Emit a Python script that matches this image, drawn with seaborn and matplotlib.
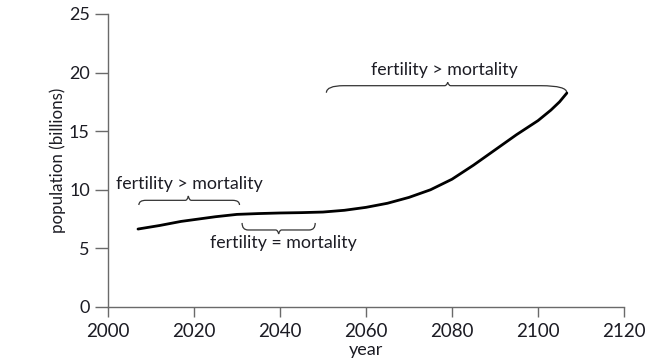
import numpy as np
import matplotlib
matplotlib.use("Agg")
import matplotlib.pyplot as plt
import seaborn as sns
from matplotlib.path import Path
from matplotlib.patches import PathPatch

# data
years = [2007, 2012, 2017, 2021, 2025, 2030, 2035, 2040, 2045, 2050, 2055,
         2060, 2065, 2070, 2075, 2080, 2085, 2090, 2095, 2100, 2103, 2105, 2106.7]
population = [6.65, 6.95, 7.3, 7.5, 7.7, 7.9, 7.97, 8.02, 8.05, 8.1, 8.25,
              8.5, 8.85, 9.35, 10.0, 10.9, 12.1, 13.4, 14.7, 15.9, 16.8, 17.5, 18.25]

x_ticks = [2000, 2020, 2040, 2060, 2080, 2100, 2120]
y_ticks = [0, 5, 10, 15, 20, 25]

# braces: (start, end, middle, y at ends, y of flat part, y of tip)
brace_x0 = [2007.2, 2031.2, 2050.8]
brace_x1 = [2030.6, 2048.2, 2106.7]
brace_xm = [2018.7, 2039.7, 2079.0]
brace_yend = [8.7, 7.17, 18.28]
brace_yflat = [9.1, 6.57, 18.88]
brace_ytip = [9.47, 6.23, 19.17]
brace_rx = [(1.6, 1.6), (1.4, 1.4), (4.0, 6.0)]

labels = ["fertility > mortality", "fertility = mortality", "fertility > mortality"]
label_x = [2019.0, 2040.9, 2078.3]
label_y = [10.5, 5.46, 20.2]

sns.set_style("white")
plt.rcParams["font.family"] = ["Lato", "DejaVu Sans"]

text_col = "#1c1c24"
axis_col = "#6a6a6a"

fig = plt.figure(figsize=(6.66, 3.58), dpi=100)
ax = fig.add_axes([0.162, 0.1425, 0.775, 0.8185])

sns.lineplot(x=years, y=population, ax=ax, color="black", linewidth=2.0)


def brace(ax, x0, x1, xm, yend, yflat, ytip, rx, tw=0.7):
    r0, r1 = rx
    verts = [(x0, yend), (x0, yflat), (x0 + r0, yflat),
             (xm - tw, yflat),
             (xm - tw * 0.3, yflat), (xm, ytip),
             (xm + tw * 0.3, yflat), (xm + tw, yflat),
             (x1 - r1, yflat),
             (x1, yflat), (x1, yend)]
    codes = [Path.MOVETO, Path.CURVE3, Path.CURVE3,
             Path.LINETO,
             Path.CURVE3, Path.CURVE3,
             Path.CURVE3, Path.CURVE3,
             Path.LINETO,
             Path.CURVE3, Path.CURVE3]
    ax.add_patch(PathPatch(Path(verts, codes), facecolor="none",
                           edgecolor="#333333", linewidth=0.9))


for i in range(len(brace_x0)):
    brace(ax, brace_x0[i], brace_x1[i], brace_xm[i], brace_yend[i],
          brace_yflat[i], brace_ytip[i], brace_rx[i])

for t, x, y in zip(labels, label_x, label_y):
    ax.text(x, y, t, ha="center", va="center", fontsize=12.8, color=text_col)

ax.set_xlim(2000, 2120)
ax.set_ylim(0, 25)
ax.set_xticks(x_ticks)
ax.set_yticks(y_ticks)
ax.set_xlabel("year", fontsize=13, color=text_col, va="center")
ax.set_ylabel("population (billions)", fontsize=12.2, color=text_col, va="center")
ax.xaxis.set_label_coords(0.5, -0.147)
ax.yaxis.set_label_coords(-0.097, 0.5)

sns.despine(ax=ax)
for s in ["left", "bottom"]:
    ax.spines[s].set_color(axis_col)
    ax.spines[s].set_linewidth(1.0)
ax.tick_params(axis="y", left=True, length=9.4, width=1.0, color=axis_col,
               labelsize=13, labelcolor=text_col, pad=3.6)
ax.tick_params(axis="x", bottom=True, length=7.2, width=1.0, color=axis_col,
               labelsize=13.5, labelcolor=text_col, pad=4.5)

fig.savefig("out.png", dpi=100)
